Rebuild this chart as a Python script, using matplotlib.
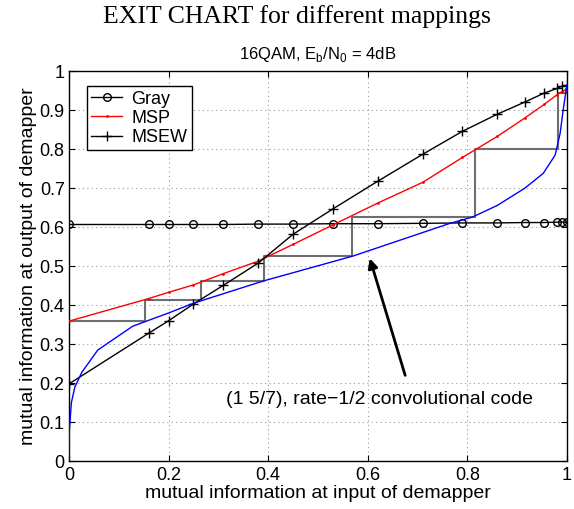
import numpy as np
import matplotlib
matplotlib.use("Agg")
import matplotlib.pyplot as plt

plt.rcParams['font.family'] = ['Liberation Sans', 'DejaVu Sans']

# mutual information at input of demapper (common grid for the mapping curves)
x_map = [0, 0.16, 0.2, 0.25, 0.31, 0.38, 0.45, 0.53, 0.62, 0.71, 0.79, 0.86,
         0.915, 0.954, 0.98, 0.99, 1.0]
gray_y = [0.607, 0.607, 0.607, 0.607, 0.607, 0.608, 0.608, 0.609, 0.609, 0.610,
          0.611, 0.611, 0.612, 0.612, 0.613, 0.613, 0.613]
msp_y = [0.359, 0.417, 0.433, 0.452, 0.481, 0.513, 0.556, 0.606, 0.662, 0.715,
         0.779, 0.833, 0.880, 0.915, 0.940, 0.948, 0.955]
msew_y = [0.198, 0.328, 0.360, 0.403, 0.451, 0.508, 0.582, 0.647, 0.718, 0.787,
          0.846, 0.890, 0.921, 0.944, 0.956, 0.962, 0.964]

# outer code (1 5/7) transfer curve, axes swapped
code_x = [0, 0.001, 0.005, 0.012, 0.026, 0.058, 0.128, 0.2, 0.25, 0.39, 0.57,
          0.765, 0.81, 0.86, 0.915, 0.952, 0.976, 0.986, 0.992, 0.998, 1.0]
code_y = [0, 0.08, 0.15, 0.19, 0.228, 0.285, 0.346, 0.38, 0.405, 0.462, 0.526,
          0.61, 0.626, 0.656, 0.70, 0.738, 0.785, 0.841, 0.9, 0.951, 0.965]

# decoding trajectory (MSP)
traj_x = [0, 0.153, 0.153, 0.265, 0.265, 0.392, 0.392, 0.568, 0.568, 0.815,
          0.815, 0.982, 0.982, 0.998, 0.998]
traj_y = [0.359, 0.359, 0.414, 0.414, 0.462, 0.462, 0.526, 0.526, 0.626, 0.626,
          0.80, 0.80, 0.944, 0.944, 0.955]

fig = plt.figure(figsize=(5.74, 5.09), dpi=100)
ax = fig.add_axes([0.120, 0.094, 0.868, 0.766])

ax.plot(traj_x, traj_y, color='#6e6e6e', lw=1.5, zorder=2)
ax.plot(x_map, gray_y, color='black', lw=1, marker='o', mfc='none',
        ms=5.5, mew=1, label='Gray', zorder=3)
ax.plot(x_map, msp_y, color='red', lw=1, marker='.', ms=2, label='MSP', zorder=3)
ax.plot(x_map, msew_y, color='black', lw=1, marker='+', ms=6.5, mew=1,
        label='MSEW', zorder=3)
ax.plot(code_x, code_y, color='blue', lw=1, zorder=3)

ax.annotate('', xy=(0.604, 0.52), xytext=(0.675, 0.22),
            arrowprops=dict(arrowstyle='-|>', color='black', lw=2,
                            mutation_scale=14, shrinkA=0, shrinkB=0))
ax.text(0.624, 0.157, '(1 5/7), rate\u22121/2 convolutional code',
        ha='center', va='center', fontsize=14)

ax.set_xlim(0, 1)
ax.set_ylim(0, 1)
ax.set_xticks(np.arange(0, 1.01, 0.2))
ax.set_yticks(np.arange(0, 1.01, 0.1))
ax.set_xticklabels(['0', '0.2', '0.4', '0.6', '0.8', '1'])
ax.set_yticklabels(['0', '0.1', '0.2', '0.3', '0.4', '0.5', '0.6', '0.7',
                    '0.8', '0.9', '1'])
ax.tick_params(direction='in', top=True, right=True, labelsize=13, length=4)
ax.tick_params(axis='x', pad=4)
ax.tick_params(axis='y', pad=3)
ax.grid(True, color='#999999', ls=(0, (1, 3)), lw=0.8)
for s in ax.spines.values():
    s.set_linewidth(1)

ax.set_xlabel('mutual information at input of demapper', fontsize=14, labelpad=1)
ax.set_ylabel('mutual information at output of demapper', fontsize=14, labelpad=2)
ax.set_title('16QAM, E$_\\mathregular{b}$/N$_\\mathregular{0}$ = 4dB',
             fontsize=12, pad=9)
fig.text(0.517, 0.968, 'EXIT CHART for different mappings', ha='center',
         va='center', fontsize=18.5, family='Liberation Serif')

leg = ax.legend(loc='upper left', bbox_to_anchor=(0.036, 0.962), fontsize=13,
                fancybox=False, edgecolor='black', framealpha=1,
                borderpad=0.25, labelspacing=0.12, handlelength=1.7,
                handletextpad=0.5, borderaxespad=0)
leg.get_frame().set_linewidth(1)

fig.savefig('out.png', dpi=100)
